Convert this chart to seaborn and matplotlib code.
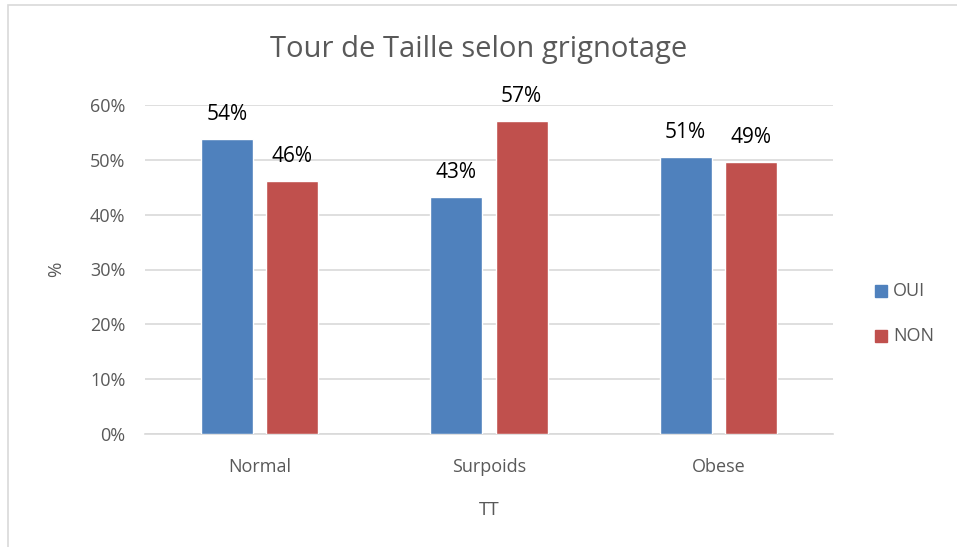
import pandas as pd
import matplotlib.pyplot as plt
import seaborn as sns
from matplotlib.patches import Rectangle

# Donnees
categories = ["Normal", "Surpoids", "Obese"]
oui_values = [0.538, 0.432, 0.505]
non_values = [0.462, 0.571, 0.496]
oui_labels = ["54%", "43%", "51%"]
non_labels = ["46%", "57%", "49%"]
series = ["OUI", "NON"]
y_ticks = [0, 0.1, 0.2, 0.3, 0.4, 0.5, 0.6]

df = pd.DataFrame({
    "TT": categories * 2,
    "grignotage": ["OUI"] * 3 + ["NON"] * 3,
    "pct": oui_values + non_values,
})

sns.set_style("white")
plt.rcParams["font.family"] = ["Open Sans", "DejaVu Sans"]

fig = plt.figure(figsize=(9.57, 5.47), dpi=100)
ax = fig.add_axes([145 / 957, 1 - 434 / 547, (833 - 145) / 957, (434 - 105) / 547])

sns.barplot(data=df, x="TT", y="pct", hue="grignotage", hue_order=series,
            palette=["#4F81BD", "#C0504D"], width=0.57, gap=0.2,
            saturation=1, ax=ax, legend=False, zorder=3)

ax.set_ylim(0, 0.6)
ax.set_xlim(-0.5, 2.5)
ax.set_yticks(y_ticks)
ax.set_yticklabels([f"{int(round(t * 100))}%" for t in y_ticks])
ax.grid(axis="y", color="#d9d9d9", linewidth=1.2, zorder=0)
for s in ["top", "right", "left"]:
    ax.spines[s].set_visible(False)
ax.spines["bottom"].set_color("#d9d9d9")
ax.spines["bottom"].set_linewidth(1.2)
ax.tick_params(axis="both", length=0, labelsize=13, colors="#595959")
ax.tick_params(axis="y", pad=14)
ax.tick_params(axis="x", pad=17)

# etiquettes au-dessus des barres
for container, labels in zip(ax.containers, [oui_labels, non_labels]):
    ax.bar_label(container, labels=labels, padding=10, fontsize=15, color="black")

ax.set_xlabel("TT", fontsize=13.5, color="#595959", labelpad=18)
ax.set_ylabel("%", fontsize=13.5, color="#595959", labelpad=18)
fig.text(0.5, 1 - 50 / 547, "Tour de Taille selon grignotage", ha="center",
         va="center", fontsize=21, color="#595959")

# legende a droite
for i, (name, col) in enumerate(zip(series, ["#4F81BD", "#C0504D"])):
    yy = 1 - (291 + 45 * i) / 547
    fig.patches.append(Rectangle((875 / 957, yy - 6 / 547), 12 / 957, 12 / 547,
                                 transform=fig.transFigure, color=col))
    fig.text(893 / 957, yy, name, va="center", ha="left", fontsize=13, color="#595959")

# cadre du graphique
fig.patches.append(Rectangle((8 / 957, -0.01), 0.995, 1 - 5 / 547 + 0.01,
                             transform=fig.transFigure, fill=False,
                             edgecolor="#d9d9d9", linewidth=1.2))

fig.savefig("out.png", dpi=100)
